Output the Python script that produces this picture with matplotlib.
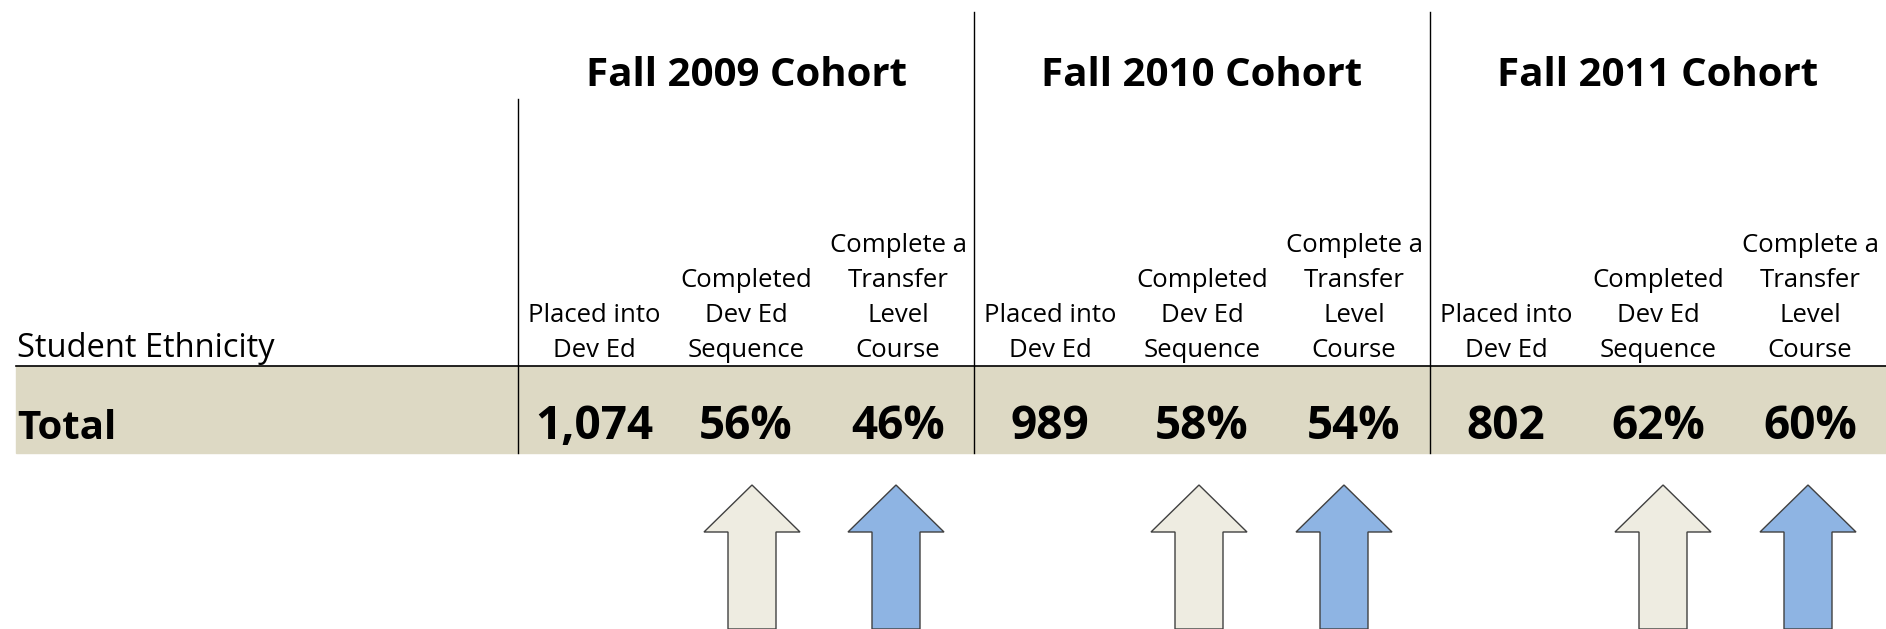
import matplotlib.pyplot as plt
from matplotlib.patches import Polygon, Rectangle

# data
cohorts = ['Fall 2009 Cohort', 'Fall 2010 Cohort', 'Fall 2011 Cohort']
col_labels = [['Placed into', 'Dev Ed'],
              ['Completed', 'Dev Ed', 'Sequence'],
              ['Complete a', 'Transfer', 'Level', 'Course']]
row_label = 'Total'
placed = ['1,074', '989', '802']
completed_seq = [56, 58, 62]
completed_transfer = [46, 54, 60]

plt.rcParams['font.family'] = ['Open Sans', 'DejaVu Sans']

W, H = 1886, 629
fig = plt.figure(figsize=(W / 100, H / 100), dpi=100)
ax = fig.add_axes([0, 0, 1, 1])
ax.set_xlim(0, W)
ax.set_ylim(H, 0)
ax.axis('off')

sec_left = [518, 974, 1430]
sec_w = 456
col_w = sec_w / 3
arrow_shift = [(6, -2), (-3, -10), (5, -2)]

# beige total row
ax.add_patch(Rectangle((16, 366), W - 16, 87, color='#ddd9c4', zorder=0))
ax.plot([16, W], [366, 366], color='black', lw=1.2)

for i, x0 in enumerate(sec_left):
    top = 99 if i == 0 else 12
    ax.plot([x0, x0], [top, 453], color='black', lw=1)
    ax.text(x0 + sec_w / 2, 86, cohorts[i], ha='center', va='baseline',
            fontsize=29, fontweight='bold')
    vals = [placed[i], '%d%%' % completed_seq[i], '%d%%' % completed_transfer[i]]
    for j in range(3):
        cx = x0 + col_w * (j + 0.5)
        lines = col_labels[j]
        for k, ln in enumerate(lines):
            ax.text(cx, 357 - 35 * (len(lines) - 1 - k), ln, ha='center',
                    va='baseline', fontsize=18.5)
        ax.text(cx, 439, vals[j], ha='center', va='baseline', fontsize=33,
                fontweight='bold')

    # arrows under the two rate columns
    for j, fc in [(1, '#eeece1'), (2, '#8eb4e3')]:
        cx = x0 + col_w * (j + 0.5) + arrow_shift[i][j - 1]
        pts = [(cx, 485), (cx + 48, 532), (cx + 24, 532), (cx + 24, 629),
               (cx - 24, 629), (cx - 24, 532), (cx - 48, 532)]
        ax.add_patch(Polygon(pts, closed=True, facecolor=fc,
                             edgecolor='#404040', lw=1))

ax.text(17, 357, 'Student Ethnicity', ha='left', va='baseline', fontsize=23.5)
ax.text(17, 439, row_label, ha='left', va='baseline', fontsize=29,
        fontweight='bold')

fig.savefig('out.png', dpi=100)
